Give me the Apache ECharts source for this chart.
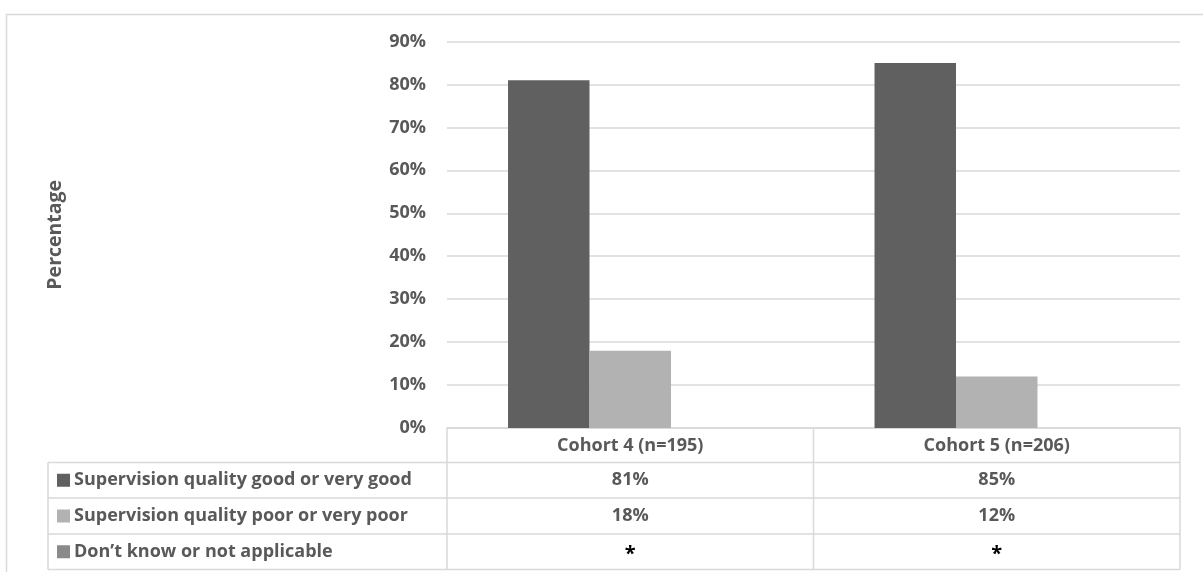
<!DOCTYPE html>
<html>
<head>
<meta charset="utf-8">
<script src="https://cdn.jsdelivr.net/npm/echarts@6/dist/echarts.min.js"></script>
<style>
  html, body { margin: 0; padding: 0; background: #fff; }
  #chart { width: 1203px; height: 572px; }
</style>
</head>
<body>
<div id="chart"></div>
<script>
// Survey results: supervision quality by cohort
const cohorts = ['Cohort 4 (n=195)', 'Cohort 5 (n=206)'];
const seriesNames = [
  'Supervision quality good or very good',
  'Supervision quality poor or very poor',
  'Don\u2019t know or not applicable'
];
const goodValues = [81, 85];
const poorValues = [18, 12];
const dontKnowValues = [null, null];      // under 0.5%, reported as *
const dontKnowLabels = ['*', '*'];
const yMax = 90;
const yStep = 10;

const seriesColors = ['#606060', '#b2b2b2', '#8a8a8a'];
const textColor = '#595959';
const lineColor = '#d9d9d9';
const FONT = '"Open Sans", sans-serif';
const FS = 18;

// layout of plot area and data table
const plotLeft = 447, plotRight = 1180, plotTop = 41.5, plotBottom = 428;
const tableLeft = 48;
const rowLines = [428, 462.5, 498, 534, 569.5];

const chart = echarts.init(document.getElementById('chart'), null, { renderer: 'canvas' });

const valueRows = [
  goodValues.map(v => v == null ? '*' : v + '%'),
  poorValues.map(v => v == null ? '*' : v + '%'),
  dontKnowValues.map((v, i) => v == null ? dontKnowLabels[i] : v + '%')
];

chart.setOption({
  animation: false,
  backgroundColor: '#fff',
  grid: {
    left: plotLeft, right: 1203 - plotRight,
    top: plotTop, bottom: 572 - plotBottom,
    containLabel: false
  },
  xAxis: {
    type: 'category',
    data: cohorts,
    axisLine: { show: true, lineStyle: { color: lineColor, width: 1.5 } },
    axisTick: { show: false },
    axisLabel: {
      margin: 7,
      fontFamily: FONT, fontSize: FS, fontWeight: 'bold', color: textColor,
      lineHeight: 22
    }
  },
  yAxis: {
    type: 'value',
    min: 0, max: yMax, interval: yStep,
    name: 'Percentage',
    nameLocation: 'middle',
    nameRotate: 90,
    nameGap: plotLeft - 65,
    nameTextStyle: { fontFamily: FONT, fontSize: 19.5, fontWeight: 'bold', color: textColor },
    axisLine: { show: false },
    axisTick: { show: false },
    axisLabel: {
      formatter: '{value}%',
      margin: 21,
      fontFamily: FONT, fontSize: FS, fontWeight: 'bold', color: textColor
    },
    splitLine: { lineStyle: { color: lineColor, width: 1.5 } }
  },
  series: [
    { name: seriesNames[0], type: 'bar', data: goodValues, itemStyle: { color: seriesColors[0] },
      barGap: '0%', barCategoryGap: '33.3%' },
    { name: seriesNames[1], type: 'bar', data: poorValues, itemStyle: { color: seriesColors[1] } },
    { name: seriesNames[2], type: 'bar', data: dontKnowValues, itemStyle: { color: seriesColors[2] } }
  ]
});

// data table under the plot
const graphics = [];
const line = (x1, y1, x2, y2) => ({
  type: 'line', silent: true,
  shape: { x1, y1, x2, y2 },
  style: { stroke: lineColor, lineWidth: 1.5 }
});

// chart outer frame
graphics.push({
  type: 'rect', silent: true,
  shape: { x: 6.5, y: 14.5, width: 1220, height: 600 },
  style: { fill: null, stroke: lineColor, lineWidth: 1.5 }
});

// horizontal rules of the legend rows
for (let r = 1; r < rowLines.length; r++) {
  graphics.push(line(tableLeft, rowLines[r], plotRight, rowLines[r]));
}
// vertical rules
graphics.push(line(tableLeft, rowLines[1], tableLeft, rowLines[rowLines.length - 1]));
const bandW = (plotRight - plotLeft) / cohorts.length;
for (let i = 0; i <= cohorts.length; i++) {
  const x = plotLeft + bandW * i;
  graphics.push(line(x, rowLines[0], x, rowLines[rowLines.length - 1]));
}

// legend keys and values
seriesNames.forEach((name, r) => {
  const yMid = (rowLines[r + 1] + rowLines[r + 2]) / 2;
  graphics.push({
    type: 'rect', silent: true,
    shape: { x: 57, y: yMid - 6.5, width: 13, height: 13 },
    style: { fill: seriesColors[r] }
  });
  graphics.push({
    type: 'text', silent: true,
    x: 74, y: yMid,
    style: {
      text: name, fill: textColor,
      font: 'bold ' + FS + 'px ' + FONT,
      verticalAlign: 'middle', align: 'left'
    }
  });
  cohorts.forEach((c, i) => {
    const cx = chart.convertToPixel({ xAxisIndex: 0 }, i);
    const txt = valueRows[r][i];
    const star = txt === '*';
    graphics.push({
      type: 'text', silent: true,
      x: cx, y: yMid + (star ? 3 : 0),
      style: {
        text: txt,
        fill: star ? '#000' : textColor,
        font: 'bold ' + (star ? 20 : FS) + 'px ' + FONT,
        align: 'center', verticalAlign: 'middle'
      }
    });
  });
});

chart.setOption({ graphic: graphics });
</script>
</body>
</html>
